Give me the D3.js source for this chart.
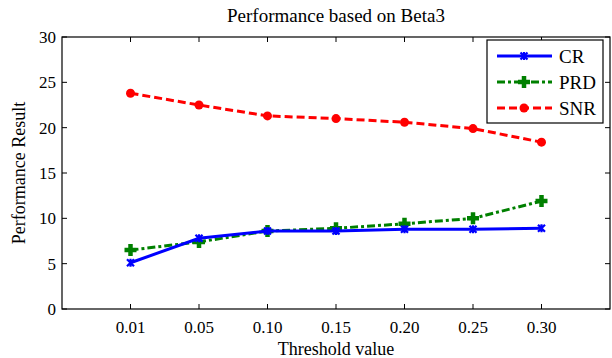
<!DOCTYPE html>
<html>
<head>
<meta charset="utf-8">
<script src="https://cdn.jsdelivr.net/npm/d3@7"></script>
<style>
  body { margin: 0; background: #fff; }
  text { font-family: "Liberation Serif", "Times New Roman", serif; fill: #000; }
</style>
</head>
<body>
<div id="chart"></div>
<script>
// data
var thresholds = ["0.01", "0.05", "0.10", "0.15", "0.20", "0.25", "0.30"];
var crValues = [5.1, 7.8, 8.6, 8.6, 8.8, 8.8, 8.9];
var prdValues = [6.5, 7.4, 8.6, 8.9, 9.4, 10.0, 11.9];
var snrValues = [23.8, 22.5, 21.3, 21.0, 20.6, 19.9, 18.4];
var yTicks = [0, 5, 10, 15, 20, 25, 30];

var series = [
    {name: "CR", values: crValues, color: "#0000ff", dash: null, marker: "x"},
    {name: "PRD", values: prdValues, color: "#008000", dash: "8,3,3,3", marker: "plus"},
    {name: "SNR", values: snrValues, color: "#ff0000", dash: "8,4", marker: "circle"}
];

var margin = {top: 37, right: 2, bottom: 49, left: 62};
var width = 612 - margin.left - margin.right;
var height = 358 - margin.top - margin.bottom;

var svg = d3.select("#chart").append("svg")
    .attr("width", 612)
    .attr("height", 358);

var g = svg.append("g")
    .attr("transform", "translate(" + margin.left + "," + margin.top + ")");

var x = d3.scaleLinear().domain([0, thresholds.length + 1]).range([0, width]);
var y = d3.scaleLinear().domain([0, 30]).range([height, 0]);

// frame
g.append("rect")
    .attr("width", width)
    .attr("height", height)
    .attr("fill", "none")
    .attr("stroke", "#000")
    .attr("stroke-width", 1.2);

// inward ticks, all four sides
var tickPos = thresholds.map(function(d, i) { return i + 1; });

g.selectAll(".xt-bottom").data(tickPos).enter().append("line")
    .attr("x1", function(d) { return x(d); }).attr("x2", function(d) { return x(d); })
    .attr("y1", height).attr("y2", height - 5)
    .attr("stroke", "#000");
g.selectAll(".xt-top").data(tickPos).enter().append("line")
    .attr("x1", function(d) { return x(d); }).attr("x2", function(d) { return x(d); })
    .attr("y1", 0).attr("y2", 5)
    .attr("stroke", "#000");
g.selectAll(".yt-left").data(yTicks).enter().append("line")
    .attr("x1", 0).attr("x2", 5)
    .attr("y1", function(d) { return y(d); }).attr("y2", function(d) { return y(d); })
    .attr("stroke", "#000");
g.selectAll(".yt-right").data(yTicks).enter().append("line")
    .attr("x1", width).attr("x2", width - 5)
    .attr("y1", function(d) { return y(d); }).attr("y2", function(d) { return y(d); })
    .attr("stroke", "#000");

// tick labels
g.selectAll(".xlabel").data(thresholds).enter().append("text")
    .attr("x", function(d, i) { return x(i + 1); })
    .attr("y", height + 24)
    .attr("text-anchor", "middle")
    .style("font-size", "17px")
    .text(function(d) { return d; });

g.selectAll(".ylabel").data(yTicks).enter().append("text")
    .attr("x", -6)
    .attr("y", function(d) { return y(d); })
    .attr("dy", "0.35em")
    .attr("text-anchor", "end")
    .style("font-size", "17px")
    .text(function(d) { return d; });

// titles
svg.append("text")
    .attr("x", margin.left + width / 2)
    .attr("y", 22)
    .attr("text-anchor", "middle")
    .style("font-size", "19px")
    .text("Performance based on Beta3");

svg.append("text")
    .attr("x", margin.left + width / 2)
    .attr("y", 355)
    .attr("text-anchor", "middle")
    .style("font-size", "18px")
    .text("Threshold value");

svg.append("text")
    .attr("transform", "translate(25," + (margin.top + height / 2) + ") rotate(-90)")
    .attr("text-anchor", "middle")
    .style("font-size", "18px")
    .text("Performance Result");

function drawMarker(sel, type, color) {
    if (type === "circle") {
        sel.append("circle").attr("r", 4.5).attr("fill", color);
    } else if (type === "plus") {
        sel.append("path").attr("d", "M-6,0H6M0,-6V6")
            .attr("stroke", color).attr("stroke-width", 4.5).attr("fill", "none");
    } else {
        sel.append("path").attr("d", "M-3.5,-3.5L3.5,3.5M-3.5,3.5L3.5,-3.5M0,-4V4")
            .attr("stroke", color).attr("stroke-width", 2.2).attr("fill", "none");
    }
}

var line = d3.line()
    .x(function(d, i) { return x(i + 1); })
    .y(function(d) { return y(d); });

// draw SNR, PRD, CR order so CR sits on top
series.slice().reverse().forEach(function(s) {
    g.append("path")
        .datum(s.values)
        .attr("d", line)
        .attr("fill", "none")
        .attr("stroke", s.color)
        .attr("stroke-width", 3)
        .attr("stroke-dasharray", s.dash);

    g.selectAll(".m-" + s.name).data(s.values).enter().append("g")
        .attr("transform", function(d, i) { return "translate(" + x(i + 1) + "," + y(d) + ")"; })
        .each(function() { drawMarker(d3.select(this), s.marker, s.color); });
});

// legend
var legend = g.append("g").attr("transform", "translate(425,3)");
legend.append("rect")
    .attr("width", 116)
    .attr("height", 83)
    .attr("fill", "#fff")
    .attr("stroke", "#000")
    .attr("stroke-width", 1.2);

series.forEach(function(s, i) {
    var row = legend.append("g").attr("transform", "translate(0," + (16 + i * 26) + ")");
    row.append("line")
        .attr("x1", 10).attr("x2", 65)
        .attr("stroke", s.color)
        .attr("stroke-width", 3)
        .attr("stroke-dasharray", s.dash);
    drawMarker(row.append("g").attr("transform", "translate(37,0)"), s.marker, s.color);
    row.append("text")
        .attr("x", 72)
        .attr("dy", "0.35em")
        .style("font-size", "19px")
        .text(s.name);
});
</script>
</body>
</html>
